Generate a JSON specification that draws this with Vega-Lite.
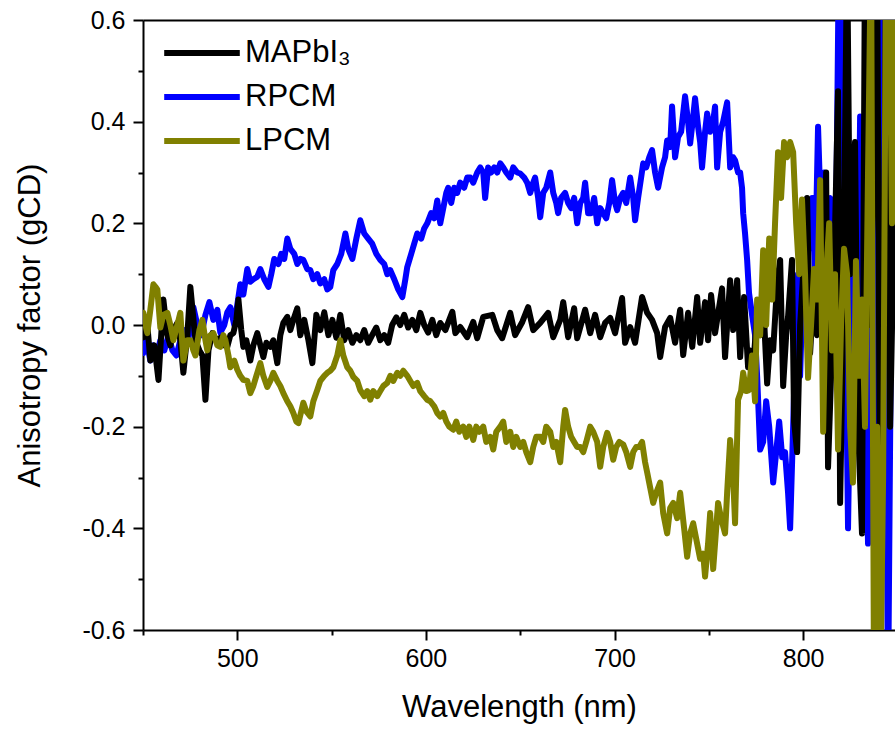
{
"$schema": "https://vega.github.io/schema/vega-lite/v6.json",
"width": 752,
"height": 610,
"autosize": {"type": "none"},
"padding": {"left": 143, "top": 20, "right": 0, "bottom": 101},
"background": "white",
"config": {
  "view": {"stroke": null},
  "font": "Liberation Sans",
  "axis": {"domainColor": "black", "domainWidth": 2, "tickColor": "black", "tickWidth": 2, "labelColor": "black", "labelFont": "Liberation Sans", "labelFontSize": 25, "titleFont": "Liberation Sans", "titleFontSize": 31, "titleFontWeight": "normal", "titleColor": "black", "grid": false},
  "legend": {"labelFont": "Liberation Sans", "labelFontSize": 31, "labelColor": "black"}
},
"datasets": {
"A": [[450.2,-0.024],[452.3,0.0],[453.9,-0.07],[456.0,-0.04],[458.2,-0.108],[460.8,0.05],[462.9,-0.02],[464.5,-0.04],[466.1,-0.01],[468.2,0.004],[469.8,-0.03],[471.4,-0.094],[473.5,-0.02],[475.1,0.075],[477.8,-0.03],[479.9,-0.05],[481.5,-0.06],[483.1,-0.147],[484.7,-0.05],[486.8,-0.016],[488.9,-0.03],[491.0,-0.025],[493.1,-0.04],[494.7,-0.043],[496.3,-0.02],[497.9,-0.016],[499.5,0.01],[500.6,0.05],[502.1,-0.01],[503.2,-0.043],[504.8,-0.03],[506.9,-0.07],[508.5,-0.04],[510.6,-0.016],[512.2,-0.04],[513.8,-0.063],[515.4,-0.035],[517.5,-0.043],[519.1,-0.03],[521.2,-0.075],[522.8,-0.02],[524.4,0.004],[526.5,0.016],[528.1,-0.01],[529.7,0.01],[531.8,0.033],[533.4,-0.02],[535.5,0.01],[537.7,-0.03],[539.8,-0.075],[541.9,0.02],[544.0,-0.01],[546.1,0.025],[548.3,-0.02],[550.4,0.01],[552.5,-0.025],[554.6,0.02],[556.7,-0.03],[558.8,-0.01],[561.0,-0.035],[563.1,-0.02],[565.2,-0.03],[567.3,-0.01],[569.4,-0.035],[571.5,-0.02],[573.7,-0.005],[575.8,-0.03],[577.9,-0.02],[580.0,-0.035],[582.1,0.0],[584.3,0.015],[586.4,0.0],[588.5,0.02],[590.6,-0.005],[592.8,0.01],[594.9,-0.01],[597.0,0.024],[599.1,0.0],[601.2,-0.015],[603.4,0.01],[605.5,-0.02],[607.6,0.004],[610.3,-0.01],[614.0,0.026],[615.6,-0.016],[618.2,-0.004],[621.9,-0.024],[625.1,0.006],[627.2,-0.026],[630.4,0.016],[635.2,0.02],[637.8,-0.01],[640.4,-0.026],[644.7,0.024],[647.3,-0.02],[651.1,0.006],[654.2,0.035],[656.9,-0.01],[660.6,0.004],[664.8,0.024],[667.5,-0.024],[671.2,0.01],[672.8,0.045],[675.4,-0.024],[678.6,0.033],[680.2,-0.026],[684.4,0.03],[687.1,-0.016],[689.7,0.02],[692.4,-0.024],[695.0,0.004],[697.7,0.014],[700.3,-0.016],[704.0,0.053],[705.6,-0.035],[708.3,-0.004],[710.9,-0.035],[714.6,0.055],[717.3,0.024],[719.9,0.01],[722.6,-0.016],[724.2,-0.063],[726.8,-0.004],[729.5,0.014],[732.1,-0.035],[734.8,0.03],[736.4,-0.059],[739.0,0.024],[741.2,-0.043],[743.8,0.055],[745.4,-0.035],[748.0,0.045],[749.6,-0.03],[751.2,0.059],[753.3,-0.016],[757.0,0.072],[758.6,-0.063],[761.3,0.088],[762.9,-0.01],[765.0,0.088],[766.6,-0.063],[768.7,0.055],[770.8,-0.083],[771.9,-0.05],[773.5,-0.08],[775.6,0.02],[777.2,-0.02],[778.8,0.05],[780.9,-0.115],[782.5,-0.03],[784.1,-0.05],[786.2,0.08],[787.8,0.128],[789.4,-0.12],[791.0,-0.02],[792.0,0.016],[794.1,0.128],[795.2,-0.19],[796.8,-0.25],[798.4,0.0],[800.0,0.1],[802.1,0.25],[803.7,-0.055],[805.3,0.05],[807.4,-0.02],[809.0,0.15],[810.6,0.0],[812.2,0.3],[813.2,-0.28],[814.8,-0.1],[816.4,0.1],[818.5,0.46],[819.6,-0.35],[821.2,0.0],[823.3,0.75],[824.9,0.1],[827.5,0.36],[829.1,-0.2],[831.2,-0.41],[832.8,0.75],[833.9,0.75],[835.5,0.0],[837.6,0.355],[839.2,0.75],[840.8,-0.4],[842.4,-0.1],[844.0,0.75],[846.1,-0.2],[848.7,0.3]],
"B": [[450.2,-0.055],[451.8,-0.03],[453.9,-0.07],[455.5,-0.04],[457.1,-0.06],[459.2,-0.03],[461.3,-0.05],[463.5,-0.02],[465.6,-0.05],[467.7,-0.06],[469.8,-0.03],[471.9,-0.01],[474.0,-0.03],[475.1,0.0],[476.7,0.035],[478.8,0.0],[480.9,-0.02],[483.1,0.02],[485.2,0.045],[487.3,0.01],[489.4,0.03],[491.0,-0.015],[493.1,0.0],[494.7,0.025],[496.3,0.035],[498.4,0.0],[500.0,0.04],[501.6,0.08],[503.2,0.06],[505.3,0.11],[506.9,0.085],[508.5,0.09],[510.6,0.095],[512.2,0.11],[514.3,0.09],[516.5,0.075],[518.0,0.1],[519.6,0.13],[521.8,0.12],[523.3,0.14],[524.9,0.13],[526.5,0.17],[528.1,0.15],[530.2,0.14],[531.8,0.12],[533.4,0.13],[535.0,0.128],[537.1,0.11],[538.7,0.108],[540.3,0.09],[542.4,0.1],[544.0,0.082],[546.1,0.09],[547.7,0.07],[549.3,0.075],[550.9,0.108],[553.0,0.12],[555.1,0.14],[557.3,0.18],[558.8,0.15],[561.0,0.13],[563.1,0.17],[565.2,0.206],[567.3,0.18],[569.4,0.17],[571.5,0.16],[573.7,0.14],[575.8,0.128],[577.9,0.12],[579.5,0.1],[581.1,0.108],[583.2,0.09],[585.3,0.07],[587.5,0.055],[589.1,0.09],[590.1,0.114],[592.2,0.14],[593.8,0.16],[595.4,0.18],[597.5,0.17],[599.1,0.19],[600.7,0.2],[602.8,0.22],[604.4,0.21],[606.0,0.245],[607.6,0.2],[609.2,0.23],[610.8,0.26],[611.8,0.27],[613.4,0.24],[615.0,0.27],[616.6,0.26],[618.2,0.28],[620.3,0.27],[621.9,0.29],[623.5,0.29],[625.1,0.28],[627.2,0.3],[628.8,0.31],[630.4,0.3],[631.4,0.25],[633.0,0.31],[634.6,0.3],[636.2,0.31],[637.8,0.3],[639.4,0.318],[641.0,0.31],[642.6,0.3],[644.7,0.29],[646.3,0.31],[648.4,0.3],[650.0,0.298],[652.1,0.29],[653.7,0.28],[655.3,0.26],[656.9,0.28],[657.9,0.29],[659.5,0.25],[660.6,0.212],[662.2,0.26],[663.8,0.27],[665.9,0.3],[667.5,0.26],[669.1,0.24],[670.1,0.22],[671.7,0.25],[673.8,0.26],[675.4,0.24],[677.0,0.23],[678.6,0.25],[680.2,0.2],[681.8,0.24],[683.4,0.25],[684.4,0.28],[686.0,0.22],[687.6,0.22],[689.2,0.25],[690.8,0.2],[692.4,0.23],[694.0,0.22],[695.6,0.21],[697.2,0.24],[698.7,0.285],[700.3,0.24],[701.4,0.226],[703.0,0.25],[704.6,0.26],[706.2,0.24],[708.3,0.29],[709.9,0.25],[710.9,0.206],[712.5,0.25],[714.1,0.29],[715.2,0.318],[716.8,0.31],[718.4,0.33],[719.9,0.344],[721.5,0.3],[723.1,0.27],[725.2,0.31],[726.8,0.33],[727.9,0.363],[729.5,0.35],[730.5,0.43],[732.1,0.33],[733.7,0.37],[735.3,0.38],[737.4,0.45],[739.0,0.4],[740.1,0.357],[741.7,0.41],[742.7,0.446],[744.3,0.39],[745.4,0.36],[746.4,0.31],[748.0,0.38],[749.1,0.416],[750.7,0.38],[752.3,0.4],[753.3,0.43],[754.4,0.31],[756.0,0.38],[757.6,0.4],[759.7,0.438],[761.3,0.31],[762.9,0.33],[763.9,0.324],[765.5,0.3],[766.6,0.3],[767.6,0.27],[768.2,0.22],[769.2,0.18],[770.3,0.128],[771.3,0.063],[772.9,0.02],[774.5,-0.02],[775.6,-0.1],[777.2,-0.245],[778.8,-0.23],[780.4,-0.15],[782.0,-0.2],[784.1,-0.31],[785.7,-0.25],[787.3,-0.19],[788.9,-0.26],[790.4,-0.25],[792.0,-0.33],[793.1,-0.4],[794.7,-0.2],[796.3,0.016],[797.3,0.1],[798.4,-0.1],[800.0,0.1],[801.6,0.2],[803.2,0.15],[804.8,0.25],[806.3,0.1],[807.9,0.39],[809.5,0.2],[811.1,0.3],[812.7,0.2],[814.3,0.25],[815.9,-0.05],[817.5,0.2],[819.0,0.75],[820.6,0.75],[822.2,0.1],[823.8,-0.4],[825.4,0.0],[827.0,0.2],[828.6,-0.1],[830.2,0.41],[831.7,0.35],[833.3,-0.2],[834.4,-0.43],[836.0,-0.1],[837.6,0.3],[839.2,-0.3],[840.2,-0.38],[841.8,0.75],[843.4,0.2],[845.0,-0.75],[846.6,0.0],[848.2,0.75]],
"C": [[450.2,0.024],[451.3,0.0],[452.3,-0.016],[453.9,0.03],[455.5,0.08],[456.6,0.075],[457.6,0.07],[459.2,-0.005],[460.8,0.02],[462.9,0.024],[464.5,0.0],[466.1,-0.03],[468.2,0.0],[469.8,0.024],[471.4,-0.07],[473.5,-0.03],[475.1,-0.03],[476.7,-0.05],[477.8,-0.06],[479.9,-0.01],[481.5,0.01],[483.1,-0.03],[484.1,-0.05],[485.7,-0.02],[487.3,-0.016],[489.4,-0.04],[491.0,-0.043],[492.6,-0.02],[493.7,-0.03],[495.3,-0.06],[496.3,-0.083],[498.4,-0.07],[500.0,-0.088],[501.6,-0.1],[503.2,-0.108],[505.3,-0.11],[506.9,-0.134],[508.5,-0.12],[510.1,-0.1],[512.2,-0.075],[513.8,-0.1],[515.9,-0.122],[517.5,-0.11],[519.1,-0.094],[521.2,-0.11],[522.8,-0.12],[524.4,-0.134],[526.5,-0.15],[528.1,-0.16],[529.7,-0.173],[531.3,-0.19],[532.4,-0.193],[533.9,-0.17],[535.0,-0.153],[536.6,-0.17],[538.7,-0.18],[540.3,-0.15],[542.4,-0.128],[544.0,-0.11],[546.1,-0.1],[547.7,-0.094],[549.3,-0.09],[550.9,-0.083],[553.0,-0.06],[554.6,-0.03],[556.2,-0.06],[558.3,-0.083],[559.9,-0.09],[561.5,-0.102],[563.6,-0.11],[565.2,-0.128],[567.3,-0.14],[568.9,-0.13],[570.5,-0.147],[572.1,-0.13],[574.2,-0.14],[575.8,-0.13],[577.4,-0.12],[579.5,-0.114],[581.1,-0.1],[582.7,-0.11],[584.8,-0.094],[586.4,-0.1],[588.0,-0.09],[590.1,-0.1],[591.7,-0.11],[593.3,-0.12],[595.4,-0.114],[597.0,-0.13],[599.1,-0.14],[600.7,-0.147],[602.3,-0.15],[604.4,-0.16],[606.0,-0.173],[607.6,-0.18],[609.2,-0.173],[610.8,-0.19],[612.4,-0.2],[614.5,-0.206],[616.1,-0.19],[617.7,-0.21],[619.8,-0.2],[621.4,-0.22],[623.0,-0.2],[625.1,-0.226],[626.7,-0.2],[628.3,-0.21],[630.4,-0.2],[632.0,-0.23],[634.1,-0.22],[635.7,-0.245],[637.3,-0.21],[639.4,-0.2],[641.0,-0.19],[642.6,-0.23],[644.7,-0.21],[646.3,-0.24],[647.9,-0.22],[650.0,-0.24],[651.6,-0.23],[653.2,-0.25],[655.3,-0.27],[656.9,-0.24],[658.5,-0.22],[660.6,-0.22],[662.2,-0.23],[663.8,-0.2],[665.9,-0.21],[667.5,-0.24],[669.1,-0.23],[671.2,-0.27],[672.8,-0.2],[673.8,-0.167],[675.4,-0.2],[677.0,-0.22],[678.6,-0.23],[680.2,-0.24],[681.8,-0.24],[683.4,-0.25],[685.0,-0.23],[687.1,-0.2],[688.7,-0.21],[690.8,-0.23],[692.4,-0.279],[694.0,-0.24],[696.1,-0.212],[697.7,-0.23],[699.3,-0.265],[700.9,-0.24],[702.5,-0.23],[704.6,-0.235],[706.2,-0.25],[708.3,-0.279],[709.9,-0.25],[711.5,-0.24],[713.1,-0.24],[714.6,-0.23],[716.2,-0.27],[717.3,-0.29],[718.9,-0.32],[720.5,-0.35],[722.1,-0.33],[724.2,-0.31],[725.8,-0.37],[727.9,-0.41],[729.5,-0.36],[731.1,-0.35],[733.2,-0.38],[734.8,-0.33],[736.9,-0.4],[738.5,-0.456],[740.1,-0.41],[741.7,-0.39],[743.8,-0.43],[745.4,-0.46],[747.0,-0.45],[748.0,-0.495],[749.6,-0.43],[750.7,-0.37],[752.3,-0.48],[753.9,-0.4],[754.9,-0.35],[756.5,-0.38],[758.6,-0.41],[759.7,-0.33],[761.3,-0.226],[762.9,-0.3],[763.9,-0.39],[765.5,-0.147],[767.1,-0.13],[768.2,-0.094],[769.8,-0.13],[771.3,-0.128],[772.9,-0.06],[774.5,-0.15],[775.6,0.05],[777.2,-0.02],[778.8,0.147],[780.4,0.0],[782.0,0.17],[783.6,0.05],[785.1,0.2],[786.7,0.34],[788.3,0.25],[789.9,0.36],[791.5,0.33],[793.1,0.36],[794.7,0.34],[796.3,0.2],[797.9,0.1],[799.4,0.247],[801.0,0.1],[802.6,-0.104],[804.2,0.0],[805.8,0.11],[807.4,0.05],[809.0,0.285],[810.6,-0.21],[812.2,0.1],[813.8,0.2],[815.3,-0.05],[816.9,0.1],[818.5,-0.245],[820.1,0.0],[821.7,0.15],[823.3,0.1],[824.9,-0.2],[826.4,-0.31],[828.0,0.126],[829.6,-0.1],[831.2,0.05],[832.8,-0.2],[834.4,0.3],[836.0,0.75],[837.6,-0.75],[839.2,-0.2],[840.8,-0.75],[842.4,-0.3],[844.0,0.75],[845.6,0.75],[847.1,0.2],[848.7,0.75]]
},
"layer": [
  {
    "mark": {"type": "rule", "color": "black", "strokeWidth": 1.5},
    "encoding": {"y": {"datum": 0, "type": "quantitative", "scale": {"domain": [-0.6, 0.6], "nice": false, "zero": false}}}
  },
  {
    "data": {"name": "B"},
    "transform": [{"calculate": "datum[0]", "as": "w"}, {"calculate": "datum[1]", "as": "g"}],
    "mark": {"type": "line", "strokeWidth": 6, "strokeJoin": "round", "strokeCap": "round", "clip": true},
    "encoding": {
      "x": {"field": "w", "type": "quantitative", "scale": {"domain": [450, 848.7], "nice": false, "zero": false},
        "axis": {"orient": "bottom", "title": "Wavelength (nm)", "values": [450, 500, 550, 600, 650, 700, 750, 800], "labelExpr": "datum.value % 100 == 0 ? datum.value : ''", "tickSize": {"condition": {"test": "datum.value % 100 != 0", "value": 5}, "value": 10}, "labelPadding": 6, "titlePadding": 21}},
      "y": {"field": "g", "type": "quantitative", "scale": {"domain": [-0.6, 0.6], "nice": false, "zero": false},
        "axis": {"title": "Anisotropy factor (gCD)", "values": [-0.6, -0.5, -0.4, -0.3, -0.2, -0.1, 0, 0.1, 0.2, 0.3, 0.4, 0.5, 0.6], "labelExpr": "round(datum.value*10) % 2 == 0 ? replace(format(datum.value, '.1f'), '\u2212', '-') : ''", "tickSize": {"condition": {"test": "round(datum.value*10) % 2 != 0", "value": 5}, "value": 10}, "labelPadding": 8, "titlePadding": 35}},
      "color": {"datum": "RPCM", "type": "nominal", "scale": {"domain": ["MAPbI\u2083", "RPCM", "LPCM"], "range": ["#000000", "#0000ff", "#808000"]},
        "legend": {"orient": "none", "legendX": 35, "legendY": 9, "title": null, "symbolType": "M-1.8,0H1.8", "symbolStrokeWidth": 6, "symbolSize": 1764, "labelOffset": 19, "rowPadding": 5}}
    }
  },
  {
    "data": {"name": "A"},
    "transform": [{"calculate": "datum[0]", "as": "w"}, {"calculate": "datum[1]", "as": "g"}],
    "mark": {"type": "line", "strokeWidth": 6, "strokeJoin": "round", "strokeCap": "round", "clip": true},
    "encoding": {
      "x": {"field": "w", "type": "quantitative", "scale": {"domain": [450, 848.7], "nice": false, "zero": false},
        "axis": {"orient": "top", "title": null, "labels": false, "ticks": false, "domain": true}},
      "y": {"field": "g", "type": "quantitative"},
      "color": {"datum": "MAPbI\u2083", "type": "nominal"}
    }
  },
  {
    "data": {"name": "C"},
    "transform": [{"calculate": "datum[0]", "as": "w"}, {"calculate": "datum[1]", "as": "g"}],
    "mark": {"type": "line", "strokeWidth": 6, "strokeJoin": "round", "strokeCap": "round", "clip": true},
    "encoding": {
      "x": {"field": "w", "type": "quantitative", "axis": null},
      "y": {"field": "g", "type": "quantitative"},
      "color": {"datum": "LPCM", "type": "nominal"}
    }
  }
],
"resolve": {"axis": {"x": "independent"}}
}
